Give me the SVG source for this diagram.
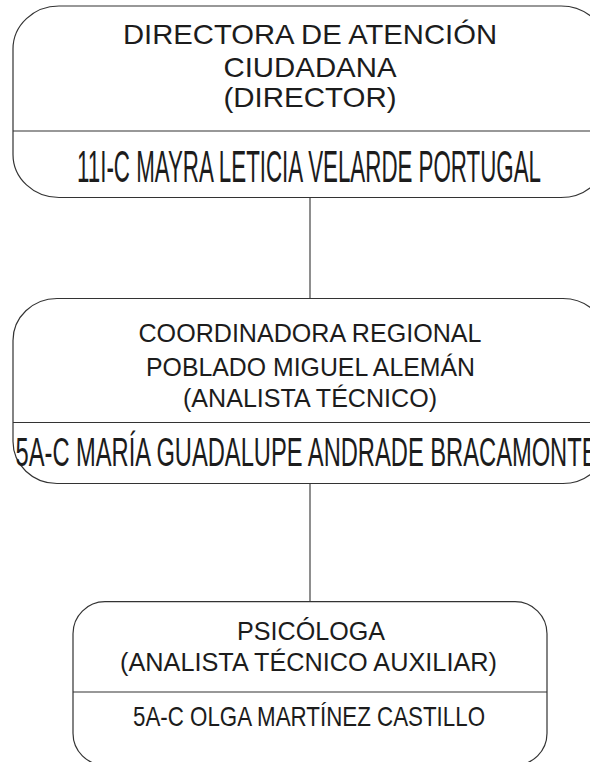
<svg xmlns="http://www.w3.org/2000/svg" width="590" height="762" viewBox="0 0 590 762">
<style>
.box{fill:#ffffff;stroke:#333333;stroke-width:1.2}
.div{stroke:#333333;stroke-width:1.2}
.conn{stroke:#444444;stroke-width:1.2;fill:none}
text{font-family:"Liberation Sans",Arial,sans-serif;fill:#1c1c1c;text-anchor:middle}
</style>
<rect width="590" height="762" fill="#ffffff"/>
<g id="connectors">
<line class="conn" x1="310" y1="197.5" x2="310" y2="298.5"/>
<line class="conn" x1="310" y1="483.5" x2="310" y2="601.7"/>
</g>
<g id="node-director">
<rect class="box" x="13" y="6" width="594" height="191.5" rx="46" ry="43"/>
<line class="div" x1="13" y1="131" x2="607" y2="131"/>
<text x="310" y="44.3" font-size="28.5" textLength="374" lengthAdjust="spacingAndGlyphs">DIRECTORA DE ATENCIÓN</text>
<text x="310" y="76.7" font-size="28.5" textLength="173" lengthAdjust="spacingAndGlyphs">CIUDADANA</text>
<text x="310" y="106.7" font-size="28.5" textLength="173" lengthAdjust="spacingAndGlyphs">(DIRECTOR)</text>
<text x="309" y="182" font-size="44" textLength="464" lengthAdjust="spacingAndGlyphs">11I-C MAYRA LETICIA VELARDE PORTUGAL</text>
</g>
<g id="node-coordinadora">
<rect class="box" x="13" y="298.5" width="594" height="185" rx="44" ry="42"/>
<line class="div" x1="13" y1="422.5" x2="607" y2="422.5"/>
<text x="310" y="341.7" font-size="26" textLength="343" lengthAdjust="spacingAndGlyphs">COORDINADORA REGIONAL</text>
<text x="310.5" y="376.2" font-size="26" textLength="329" lengthAdjust="spacingAndGlyphs">POBLADO MIGUEL ALEMÁN</text>
<text x="310" y="406.7" font-size="26" textLength="254" lengthAdjust="spacingAndGlyphs">(ANALISTA TÉCNICO)</text>
<text x="306.5" y="466" font-size="40" textLength="582" lengthAdjust="spacingAndGlyphs">5A-C MARÍA GUADALUPE ANDRADE BRACAMONTE</text>
</g>
<g id="node-psicologa">
<rect class="box" x="73" y="601.7" width="474" height="163.5" rx="32" ry="32"/>
<line class="div" x1="73" y1="692" x2="547" y2="692"/>
<text x="311" y="640" font-size="25" textLength="148" lengthAdjust="spacingAndGlyphs">PSICÓLOGA</text>
<text x="308.5" y="671" font-size="25.5" textLength="377" lengthAdjust="spacingAndGlyphs">(ANALISTA TÉCNICO AUXILIAR)</text>
<text x="309" y="725.5" font-size="28" textLength="352" lengthAdjust="spacingAndGlyphs">5A-C OLGA MARTÍNEZ CASTILLO</text>
</g>
</svg>
